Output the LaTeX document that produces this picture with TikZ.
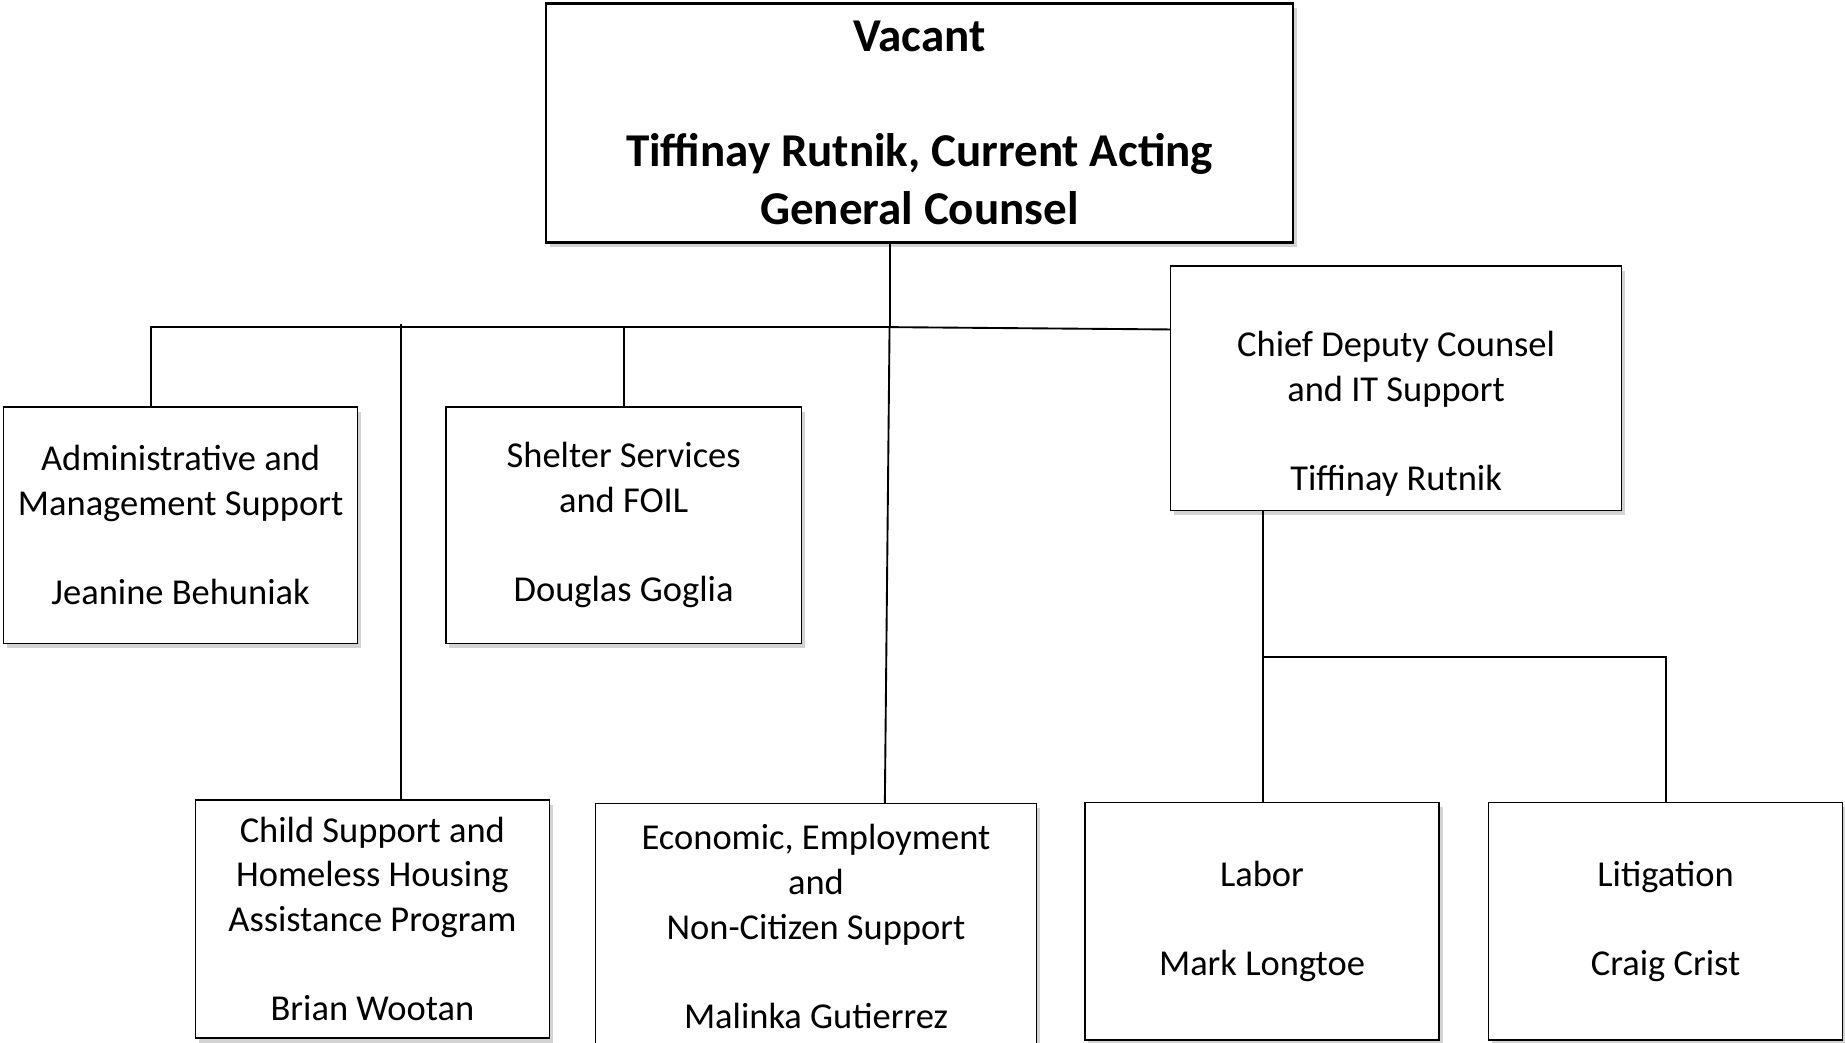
\documentclass[tikz,border=0pt]{standalone}
\usepackage{fontspec}
\setmainfont{Carlito}
\usetikzlibrary{shadows}

\begin{document}
\begin{tikzpicture}[x=1pt,y=-1pt,
    unit/.style={draw,line width=1.3pt,fill=white,align=center,inner sep=0pt,
        font=\fontsize{31}{38}\selectfont,
        drop shadow={shadow xshift=3pt,shadow yshift=-4pt,opacity=.35}},
    link/.style={line width=1.6pt}]
    \useasboundingbox (0,0) rectangle (1568,886);

    \node[unit,line width=2pt,minimum width=635pt,minimum height=203pt,
        font=\bfseries\fontsize{40}{49}\selectfont] (head) at (781.5,104.5)
        {Vacant\\ \\Tiffinay Rutnik, Current Acting\\General Counsel};
    \node[unit,line width=1pt,minimum width=383pt,minimum height=208pt] (chief) at (1186.5,330)
        {\strut\\Chief Deputy Counsel\\and IT Support\\ \\Tiffinay Rutnik};
    \node[unit,minimum width=301pt,minimum height=201pt] (admin) at (153.5,446.5)
        {Administrative and\\Management Support\\ \\Jeanine Behuniak};
    \node[unit,minimum width=302pt,minimum height=201pt] (shelter) at (530,446.5)
        {Shelter Services\\and FOIL\\ \\Douglas Goglia};
    \node[unit,minimum width=301pt,minimum height=202pt] (child) at (316.5,781)
        {Child Support and\\Homeless Housing\\Assistance Program\\ \\Brian Wootan};
    \node[unit,minimum width=375pt,minimum height=209pt] (econ) at (693.5,787.5)
        {Economic, Employment\\and\\Non-Citizen Support\\ \\Malinka Gutierrez};
    \node[unit,minimum width=301pt,minimum height=202pt] (labor) at (1072.5,783)
        {Labor\\ \\Mark Longtoe};
    \node[unit,minimum width=301pt,minimum height=202pt] (litig) at (1415.5,783)
        {Litigation\\ \\Craig Crist};

    % branch points
    \coordinate (hub) at (756,278);
    \coordinate (a1) at (128,278);
    \coordinate (c1) at (341,275);
    \coordinate (e1) at (752,683);
    \coordinate (d1) at (995,280);
    \coordinate (bar) at (1073,558);

    \draw[link] (hub |- head.south) -- (hub);
    \draw[link] (hub) -- (a1) -- (a1 |- admin.north);
    \draw[link] (c1) -- (c1 |- child.north);
    \draw[link] (shelter.north |- hub) -- (shelter.north);
    \draw[link] (hub) -- (e1 |- econ.north);
    \draw[link] (hub) -- (d1);
    \draw[link] (bar |- chief.south) -- (bar |- labor.north);
    \draw[link] (bar) -| (litig.north);
\end{tikzpicture}
\end{document}
